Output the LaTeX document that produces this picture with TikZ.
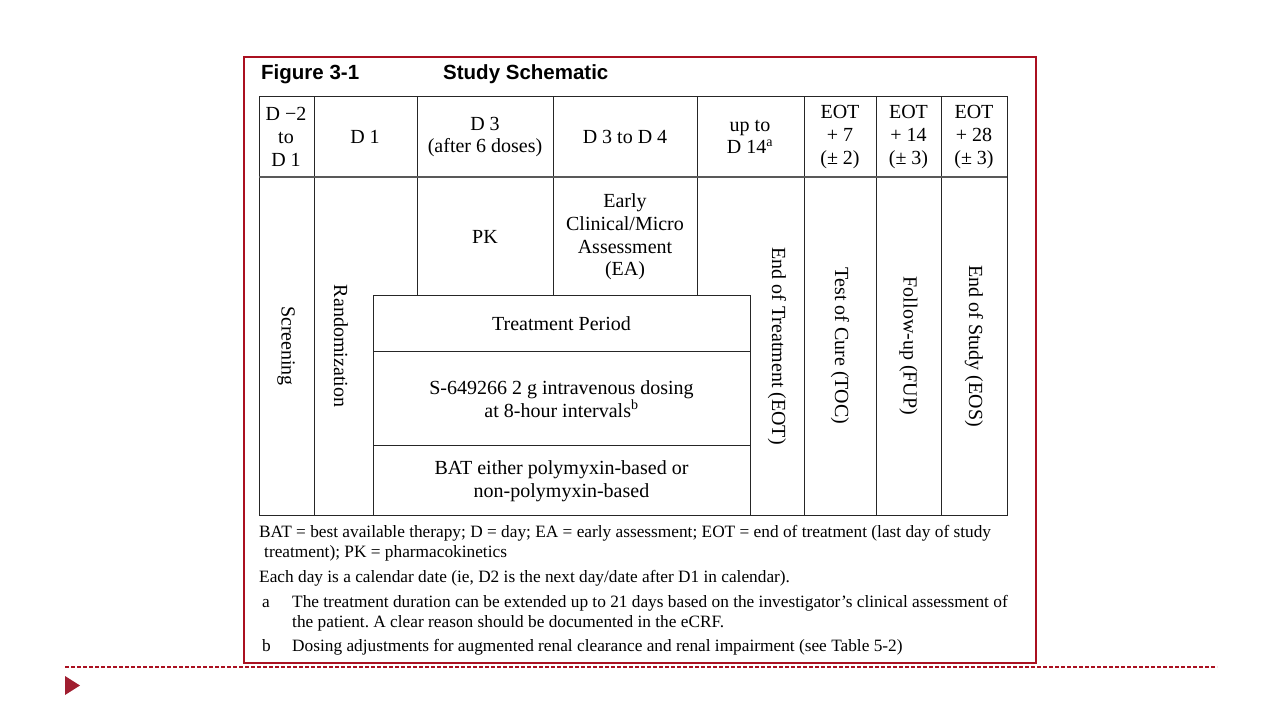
\documentclass[tikz,border=0pt]{standalone}
\usepackage{fontspec}
\setmainfont{Liberation Serif}
\newfontfamily\headfont{Liberation Sans}
\usetikzlibrary{positioning}
\frenchspacing

\definecolor{framered}{RGB}{170,16,32}
\definecolor{bulletred}{RGB}{160,30,48}

\begin{document}
\begin{tikzpicture}[x=1pt, y=-1pt,
    cell/.style={align=center, inner sep=0pt, font=\fontsize{20}{22.7}\selectfont},
    vcell/.style={cell, rotate=-90},
    note/.style={anchor=base west, inner sep=0pt, font=\fontsize{17.3}{20}\selectfont},
    rule/.style={draw=black!85, line width=0.9pt}]

    \useasboundingbox (0,0) rectangle (1280,720);

    % slide frame and footer
    \draw[framered, line width=2pt] (244,57) rectangle (1036,663);
    \draw[framered, line width=1.2pt, dash pattern=on 3.5pt off 2.5pt] (65,667) -- (1217,667);
    \fill[bulletred] (65,676) -- (80,685.5) -- (65,695) -- cycle;

    % title
    \node (Fig) [anchor=base west, inner sep=0pt, font=\headfont\bfseries\fontsize{20.5}{24}\selectfont] at (261,79) {Figure 3-1};
    \node (Title) [anchor=base west, inner sep=0pt, font=\headfont\bfseries\fontsize{20.5}{24}\selectfont] at (443,79) {Study Schematic};

    % table rules
    \draw[rule] (259,96) rectangle (1007,515);
    \foreach \x in {314,804,876,941}
        \draw[rule] (\x,96) -- (\x,515);
    \foreach \x in {417,553,697}
        \draw[rule] (\x,96) -- (\x,295);
    \draw[rule] (373,295) rectangle (750,515);
    \draw[rule] (373,351) -- (750,351)
                (373,445) -- (750,445);
    \draw[black!65, line width=2pt] (259,177) -- (1007,177);

    % header row
    \node (DayScr) [cell] at (286,137) {D −2\\to\\D 1};
    \node (DayRand) [cell] at (365,137) {D 1};
    \node (DayPK) [cell] at (485,137) {D 3\\(after 6 doses)};
    \node (DayEA) [cell] at (625,137) {D 3 to D 4};
    \node (DayEOT) [cell] at (750,137) {up to\\D 14\textsuperscript{a}};
    \node (DayTOC) [cell] at (840,137) {EOT\\+ 7\\(± 2)};
    \node (DayFUP) [cell] at (908.5,137) {EOT\\+ 14\\(± 3)};
    \node (DayEOS) [cell] at (974,137) {EOT\\+ 28\\(± 3)};

    % body
    \node (PK) [cell] at (485,237) {PK};
    \node (EA) [cell] at (625,237) {Early\\Clinical/Micro\\Assessment\\(EA)};
    \node (Trt) [cell] at (561.5,324) {Treatment Period};
    \node (Dose) [cell] at (561.5,399) {S-649266 2 g intravenous dosing\\at 8-hour intervals\textsuperscript{b}};
    \node (BAT) [cell] at (561.5,481) {BAT either polymyxin-based or\\non-polymyxin-based};

    \node (Scr) [vcell] at (286,346) {Screening};
    \node (Rand) [vcell] at (341,346) {Randomization};
    \node (EOT) [vcell] at (777,346) {End of Treatment (EOT)};
    \node (TOC) [vcell] at (840,346) {Test of Cure (TOC)};
    \node (FUP) [vcell] at (908.5,346) {Follow-up (FUP)};
    \node (EOS) [vcell] at (974,346) {End of Study (EOS)};

    % notes
    \node (Abbr) [note] at (259,537) {BAT = best available therapy; D = day; EA = early assessment; EOT = end of treatment (last day of study};
    \node (AbbrCont) [note] at (264,557) {treatment); PK = pharmacokinetics};
    \node (Cal) [note] at (259,582) {Each day is a calendar date (ie, D2 is the next day/date after D1 in calendar).};
    \node (MarkA) [note] at (262,607) {a};
    \node (NoteA) [note] at (292,607) {The treatment duration can be extended up to 21 days based on the investigator’s clinical assessment of};
    \node (NoteACont) [note] at (292,627) {the patient. A clear reason should be documented in the eCRF.};
    \node (MarkB) [note] at (262,651) {b};
    \node (NoteB) [note] at (292,651) {Dosing adjustments for augmented renal clearance and renal impairment (see Table 5-2)};
\end{tikzpicture}
\end{document}
